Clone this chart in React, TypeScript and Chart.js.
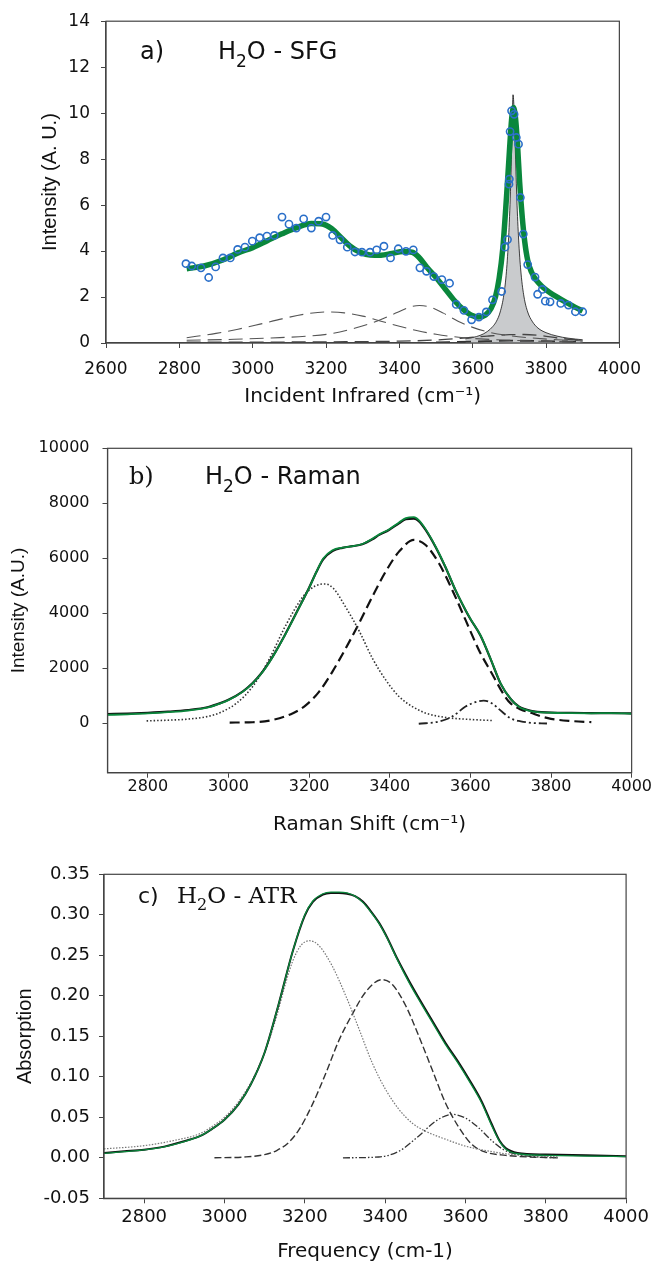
import React, { useEffect, useRef } from "react";
import { Chart, registerables } from "chart.js";
Chart.register(...registerables);

// ---------------- Panel a : H2O - SFG ----------------
const sfgPointX = [2818, 2834, 2859, 2880, 2899, 2919, 2939, 2959, 2979, 2999, 3019, 3039, 3059, 3080, 3099, 3119, 3139, 3160, 3180, 3200, 3218, 3238, 3258, 3279, 3298, 3320, 3338, 3358, 3376, 3397, 3418, 3438, 3456, 3474, 3494, 3516, 3537, 3555, 3576, 3597, 3617, 3637, 3654, 3679, 3688, 3695, 3699, 3700, 3702, 3706, 3713, 3719, 3725, 3730, 3738, 3750, 3770, 3777, 3790, 3798, 3811, 3840, 3861, 3880, 3900];
const sfgPointY = [3.45, 3.35, 3.27, 2.85, 3.31, 3.70, 3.70, 4.07, 4.17, 4.43, 4.58, 4.65, 4.68, 5.48, 5.17, 5.00, 5.40, 5.00, 5.30, 5.48, 4.68, 4.49, 4.17, 3.96, 3.95, 3.95, 4.05, 4.21, 3.70, 4.10, 3.99, 4.05, 3.27, 3.12, 2.89, 2.76, 2.60, 1.68, 1.42, 1.01, 1.13, 1.35, 1.88, 2.24, 4.17, 4.50, 6.91, 7.13, 9.20, 10.10, 9.95, 8.94, 8.65, 6.33, 4.74, 3.41, 2.87, 2.12, 2.33, 1.82, 1.79, 1.72, 1.65, 1.36, 1.36];

const sfgFitX = [2820, 2870, 2920, 2960, 3000, 3040, 3080, 3120, 3160, 3190, 3215, 3240, 3265, 3290, 3320, 3350, 3380, 3410, 3435, 3455, 3475, 3500, 3525, 3550, 3575, 3595, 3615, 3635, 3650, 3662, 3672, 3682, 3692, 3700, 3706, 3711, 3716, 3722, 3728, 3735, 3742, 3750, 3760, 3775, 3790, 3810, 3835, 3860, 3880, 3900];
const sfgFitY = [3.23, 3.36, 3.62, 3.92, 4.15, 4.45, 4.75, 5.02, 5.20, 5.18, 4.98, 4.60, 4.22, 3.97, 3.83, 3.82, 3.90, 3.98, 3.95, 3.70, 3.30, 2.85, 2.35, 1.85, 1.45, 1.22, 1.13, 1.22, 1.50, 2.00, 2.80, 4.10, 6.30, 8.30, 9.70, 10.25, 9.90, 8.70, 7.00, 5.50, 4.40, 3.60, 3.10, 2.70, 2.45, 2.20, 1.95, 1.72, 1.55, 1.40];

const sfgPeakX = [3580, 3600, 3620, 3640, 3655, 3665, 3675, 3685, 3692, 3698, 3703, 3707, 3710, 3713, 3717, 3721, 3726, 3732, 3740, 3750, 3762, 3778, 3800, 3830, 3860, 3900];
const sfgPeakY = [0.18, 0.24, 0.33, 0.50, 0.72, 0.95, 1.35, 2.10, 3.10, 4.60, 6.60, 8.90, 10.80, 10.10, 8.00, 6.00, 4.30, 3.00, 2.00, 1.35, 0.95, 0.65, 0.45, 0.30, 0.21, 0.14];

const sfgBand1X = [2820, 2900, 2960, 3020, 3080, 3140, 3200, 3250, 3300, 3350, 3400, 3450, 3500, 3550, 3600, 3700, 3800, 3900];
const sfgBand1Y = [0.23, 0.42, 0.60, 0.82, 1.05, 1.25, 1.35, 1.31, 1.17, 0.95, 0.73, 0.53, 0.38, 0.27, 0.20, 0.12, 0.07, 0.04];

const sfgBand2X = [2820, 2950, 3050, 3150, 3220, 3280, 3340, 3390, 3430, 3455, 3480, 3520, 3560, 3600, 3650, 3700, 3760, 3830, 3900];
const sfgBand2Y = [0.12, 0.16, 0.22, 0.30, 0.42, 0.65, 0.96, 1.30, 1.57, 1.63, 1.58, 1.30, 0.95, 0.68, 0.45, 0.32, 0.22, 0.14, 0.10];

const sfgBand3X = [2820, 3000, 3200, 3400, 3500, 3580, 3640, 3700, 3740, 3780, 3840, 3900];
const sfgBand3Y = [0.04, 0.04, 0.05, 0.08, 0.13, 0.22, 0.30, 0.36, 0.37, 0.33, 0.20, 0.12];

const sfgBand4X = [3500, 3600, 3700, 3800, 3900];
const sfgBand4Y = [0.03, 0.06, 0.10, 0.08, 0.05];

const sfgTicksX = [2600, 2800, 3000, 3200, 3400, 3600, 3800, 4000];
const sfgTicksY = [0, 2, 4, 6, 8, 10, 12, 14];

// ---------------- Panel b : H2O - Raman ----------------
const ramanX = [2700, 2750, 2800, 2850, 2900, 2950, 2980, 3000, 3035, 3060, 3085, 3110, 3140, 3170, 3200, 3218, 3235, 3258, 3283, 3308, 3332, 3357, 3374, 3398, 3423, 3440, 3460, 3472, 3489, 3514, 3538, 3563, 3588, 3600, 3625, 3650, 3675, 3700, 3720, 3750, 3800, 3850, 3900, 3950, 4000];
const ramanY = [300, 325, 355, 400, 460, 575, 720, 840, 1140, 1450, 1870, 2420, 3200, 4050, 4920, 5500, 5990, 6290, 6390, 6440, 6520, 6710, 6870, 7050, 7300, 7460, 7500, 7390, 7060, 6420, 5700, 4850, 4120, 3800, 3200, 2350, 1450, 880, 600, 440, 380, 365, 360, 370, 345];
const ramanFitY = [330, 350, 380, 420, 480, 590, 730, 850, 1150, 1460, 1880, 2430, 3210, 4060, 4930, 5500, 5960, 6260, 6380, 6440, 6510, 6690, 6850, 7030, 7270, 7420, 7440, 7350, 7030, 6400, 5680, 4840, 4110, 3790, 3190, 2340, 1440, 880, 610, 450, 390, 375, 370, 365, 360];

const ramanBand1X = [2797, 2850, 2900, 2950, 2980, 3020, 3060, 3100, 3140, 3185, 3215, 3240, 3260, 3290, 3325, 3357, 3390, 3423, 3456, 3490, 3540, 3590, 3655];
const ramanBand1Y = [85, 110, 150, 250, 390, 727, 1333, 2300, 3500, 4606, 4990, 5066, 4909, 4242, 3333, 2363, 1576, 970, 606, 364, 206, 145, 97];

const ramanBand2X = [3003, 3060, 3110, 3160, 3193, 3225, 3258, 3291, 3324, 3357, 3390, 3423, 3460, 3489, 3522, 3555, 3588, 3621, 3653, 3686, 3700, 3725, 3750, 3775, 3800, 3850, 3900];
const ramanBand2Y = [24, 36, 121, 364, 667, 1151, 1879, 2727, 3636, 4606, 5515, 6242, 6666, 6484, 5818, 4848, 3757, 2666, 1818, 970, 720, 500, 380, 250, 160, 80, 40];

const ramanBand3X = [3472, 3522, 3555, 3588, 3617, 3633, 3653, 3678, 3699, 3725, 3750, 3790];
const ramanBand3Y = [-20, 60, 242, 606, 788, 824, 727, 424, 182, 70, 15, -10];

const ramanTicksX = [2800, 3000, 3200, 3400, 3600, 3800, 4000];
const ramanTicksY = [0, 2000, 4000, 6000, 8000, 10000];

// ---------------- Panel c : H2O - ATR ----------------
const atrX = [2700, 2750, 2800, 2850, 2900, 2940, 2970, 3000, 3035, 3065, 3100, 3135, 3170, 3200, 3220, 3245, 3265, 3285, 3305, 3325, 3345, 3365, 3385, 3405, 3430, 3460, 3490, 3520, 3550, 3580, 3610, 3640, 3665, 3685, 3700, 3730, 3800, 3900, 4000];
const atrY = [0.0055, 0.0075, 0.0098, 0.0135, 0.020, 0.027, 0.036, 0.047, 0.066, 0.090, 0.130, 0.190, 0.255, 0.300, 0.317, 0.326, 0.328, 0.328, 0.327, 0.323, 0.315, 0.303, 0.289, 0.271, 0.245, 0.216, 0.190, 0.165, 0.140, 0.118, 0.094, 0.068, 0.040, 0.020, 0.011, 0.005, 0.003, 0.002, 0.0015];
const atrFitY = [0.0060, 0.0080, 0.0100, 0.0138, 0.0205, 0.027, 0.036, 0.047, 0.066, 0.090, 0.130, 0.190, 0.255, 0.299, 0.316, 0.325, 0.327, 0.327, 0.326, 0.323, 0.316, 0.304, 0.290, 0.272, 0.246, 0.218, 0.192, 0.167, 0.142, 0.120, 0.096, 0.070, 0.042, 0.021, 0.012, 0.006, 0.004, 0.003, 0.002];

const atrBand1X = [2700, 2800, 2880, 2940, 2970, 3000, 3036, 3070, 3103, 3130, 3152, 3170, 3190, 3212, 3235, 3268, 3302, 3335, 3368, 3401, 3434, 3467, 3500, 3550, 3600, 3650, 3700, 3760, 3830];
const atrBand1Y = [0.011, 0.015, 0.022, 0.030, 0.039, 0.050, 0.070, 0.097, 0.134, 0.175, 0.215, 0.243, 0.262, 0.268, 0.262, 0.237, 0.200, 0.159, 0.117, 0.0845, 0.060, 0.043, 0.033, 0.023, 0.0144, 0.009, 0.005, 0.003, 0.001];

const atrBand2X = [2975, 3050, 3100, 3130, 3160, 3186, 3219, 3252, 3285, 3318, 3352, 3392, 3418, 3451, 3484, 3517, 3550, 3583, 3617, 3650, 3700, 3760, 3830];
const atrBand2Y = [0, 0.001, 0.004, 0.009, 0.019, 0.035, 0.066, 0.104, 0.145, 0.177, 0.205, 0.220, 0.214, 0.188, 0.150, 0.109, 0.068, 0.038, 0.016, 0.007, 0.003, 0.001, 0];

const atrBand3X = [3295, 3384, 3434, 3484, 3525, 3567, 3600, 3633, 3666, 3695, 3730, 3780, 3830];
const atrBand3Y = [0, 0.001, 0.008, 0.027, 0.045, 0.0536, 0.049, 0.037, 0.021, 0.010, 0.004, 0.001, 0];

const atrTicksX = [2800, 3000, 3200, 3400, 3600, 3800, 4000];
const atrTicksY = [-0.05, 0, 0.05, 0.10, 0.15, 0.20, 0.25, 0.30, 0.35];

// ---------------- helpers ----------------
const SANS = '"DejaVu Sans", sans-serif';
const ARIAL = '"Liberation Sans", Arial, sans-serif';
const SERIF = '"DejaVu Serif", serif';
const AXIS = "#444";
const BLUE = "#2a6fc9";
const GREEN = "#0a873c";

Chart.defaults.font.family = SANS;

const toPts = (xs: number[], ys: number[]) => xs.map((x, i) => ({ x, y: ys[i] }));

const framePlugin = {
  id: "frame",
  afterDraw(chart: any) {
    const { ctx, chartArea: a } = chart;
    ctx.save();
    ctx.strokeStyle = AXIS;
    ctx.lineWidth = 1.2;
    ctx.strokeRect(a.left, a.top, a.right - a.left, a.bottom - a.top);
    ctx.restore();
  },
};

type Part = { text: string; size: number; family: string; dy?: number; gap?: number };
type Item = { x: number; y: number; parts: Part[] };

function labelPlugin(items: Item[]) {
  return {
    id: "panelLabel",
    afterDraw(chart: any) {
      const ctx = chart.ctx;
      ctx.save();
      ctx.fillStyle = "#111";
      ctx.textBaseline = "alphabetic";
      ctx.textAlign = "left";
      for (const item of items) {
        let x = item.x;
        for (const p of item.parts) {
          ctx.font = `${p.size}px ${p.family}`;
          ctx.fillText(p.text, x, item.y + (p.dy || 0));
          x += ctx.measureText(p.text).width + (p.gap || 0);
        }
      }
      ctx.restore();
    },
  };
}

function axis(o: {
  min: number; max: number; ticks: number[]; size: number; pad: number;
  fmt?: (v: number) => string; title: string; titleFont: any; titlePad: any; fit: (s: any) => void;
}) {
  return {
    type: "linear",
    min: o.min,
    max: o.max,
    afterBuildTicks: (s: any) => {
      s.ticks = o.ticks.map((v) => ({ value: v }));
    },
    afterFit: o.fit,
    grid: { display: true, drawOnChartArea: false, drawTicks: true, tickLength: 5, color: AXIS, lineWidth: 1 },
    border: { display: true, color: AXIS, width: 1.2 },
    ticks: {
      color: "#111",
      font: { family: SANS, size: o.size },
      padding: o.pad,
      autoSkip: false,
      maxRotation: 0,
      callback: (v: any) => (o.fmt ? o.fmt(Number(v)) : String(v)),
    },
    title: { display: true, text: o.title, color: "#111", font: o.titleFont, padding: o.titlePad },
  };
}

const lineDs = (label: string, xs: number[], ys: number[], color: string, width: number, dash: number[] = [], extra: any = {}) => ({
  label,
  data: toPts(xs, ys),
  borderColor: color,
  backgroundColor: color,
  borderWidth: width,
  borderDash: dash,
  pointRadius: 0,
  fill: false,
  cubicInterpolationMode: "monotone",
  ...extra,
});

const baseOptions = (padding: any, scales: any) => ({
  responsive: false,
  animation: false,
  devicePixelRatio: 1,
  layout: { padding },
  plugins: { legend: { display: false }, tooltip: { enabled: false } },
  elements: { point: { radius: 0 } },
  scales,
});

// ---------------- configs ----------------
function configA() {
  return {
    type: "line",
    data: {
      datasets: [
        {
          label: "SFG data",
          data: toPts(sfgPointX, sfgPointY),
          showLine: false,
          pointRadius: 3.6,
          pointBorderWidth: 1.6,
          pointBorderColor: BLUE,
          pointBackgroundColor: "rgba(255,255,255,0)",
          borderColor: BLUE,
        },
        lineDs("Fit", sfgFitX, sfgFitY, GREEN, 5.5),
        lineDs("Band 1", sfgBand1X, sfgBand1Y, "#555", 1.1, [14, 7]),
        lineDs("Band 2", sfgBand2X, sfgBand2Y, "#555", 1.1, [14, 7]),
        lineDs("Band 3", sfgBand3X, sfgBand3Y, "#444", 1.3, [14, 7]),
        lineDs("Band 4", sfgBand4X, sfgBand4Y, "#333", 1.8, [14, 7]),
        lineDs("Free OH", sfgPeakX, sfgPeakY, "#111", 0.8, [], { fill: "origin", backgroundColor: "#c9cbcd" }),
      ],
    },
    options: baseOptions(
      { left: 0, right: 23, top: 20, bottom: 0 },
      {
        x: axis({
          min: 2600, max: 4000, ticks: sfgTicksX, size: 17, pad: 11,
          title: "Incident Infrared (cm⁻¹)", titleFont: { family: SANS, size: 20, lineHeight: 1 },
          titlePad: { top: 0, bottom: 13 }, fit: (s: any) => { s.height = 77; },
        }),
        y: axis({
          min: 0, max: 14, ticks: sfgTicksY, size: 17, pad: 11,
          title: "Intensity (A. U.)", titleFont: { family: ARIAL, size: 20 },
          titlePad: { top: 38, bottom: 0 }, fit: (s: any) => { s.width = 106; },
        }),
      }
    ),
    plugins: [
      framePlugin,
      labelPlugin([
        { x: 140, y: 59, parts: [{ text: "a)", size: 24, family: SANS }] },
        {
          x: 218, y: 59,
          parts: [
            { text: "H", size: 24, family: SANS },
            { text: "2", size: 17, family: SANS, dy: 8 },
            { text: "O - SFG", size: 24, family: SANS },
          ],
        },
      ]),
    ],
  };
}

function configB() {
  return {
    type: "line",
    data: {
      datasets: [
        lineDs("Raman data", ramanX, ramanY, GREEN, 1.8),
        lineDs("Fit", ramanX, ramanFitY, "#111", 2.2),
        lineDs("Band 1", ramanBand1X, ramanBand1Y, "#333", 1.6, [1.5, 2]),
        lineDs("Band 2", ramanBand2X, ramanBand2Y, "#111", 2.2, [10, 5]),
        lineDs("Band 3", ramanBand3X, ramanBand3Y, "#222", 1.8, [9, 3, 2, 3, 2, 3]),
      ],
    },
    options: baseOptions(
      { left: 0, right: 19.5, top: 28.3, bottom: 0 },
      {
        x: axis({
          min: 2700, max: 4000, ticks: ramanTicksX, size: 16, pad: 0,
          title: "Raman Shift (cm⁻¹)", titleFont: { family: SANS, size: 20, lineHeight: 1 },
          titlePad: { top: 0, bottom: 5 }, fit: (s: any) => { s.height = 67.3; },
        }),
        y: axis({
          min: -1800, max: 10000, ticks: ramanTicksY, size: 16, pad: 13,
          title: "Intensity (A.U.)", titleFont: { family: ARIAL, size: 19 },
          titlePad: { top: 7.3, bottom: 0 }, fit: (s: any) => { s.width = 107.5; },
        }),
      }
    ),
    plugins: [
      framePlugin,
      labelPlugin([
        { x: 129, y: 64, parts: [{ text: "b)", size: 24, family: SERIF }] },
        {
          x: 205, y: 64,
          parts: [
            { text: "H", size: 24, family: SANS },
            { text: "2", size: 17, family: SANS, dy: 8 },
            { text: "O - Raman", size: 24, family: SANS },
          ],
        },
      ]),
    ],
  };
}

function configC() {
  return {
    type: "line",
    data: {
      datasets: [
        lineDs("ATR data", atrX, atrY, GREEN, 1.3),
        lineDs("Fit", atrX, atrFitY, "#111", 2),
        lineDs("Band 1", atrBand1X, atrBand1Y, "#777", 1.2, [1.5, 1.5]),
        lineDs("Band 2", atrBand2X, atrBand2Y, "#333", 1.4, [7, 3]),
        lineDs("Band 3", atrBand3X, atrBand3Y, "#333", 1.3, [7, 2, 1.5, 2, 1.5, 2]),
      ],
    },
    options: baseOptions(
      { left: 0, right: 24, top: 34.3, bottom: 0 },
      {
        x: axis({
          min: 2700, max: 4000, ticks: atrTicksX, size: 18, pad: 3,
          title: "Frequency (cm-1)", titleFont: { family: SANS, size: 20, lineHeight: 1 },
          titlePad: { top: 0, bottom: 0 }, fit: (s: any) => { s.height = 63.7; },
        }),
        y: axis({
          min: -0.05, max: 0.35, ticks: atrTicksY, size: 18, pad: 9, fmt: (v) => v.toFixed(2),
          title: "Absorption", titleFont: { family: ARIAL, size: 20 },
          titlePad: { top: 13, bottom: 0 }, fit: (s: any) => { s.width = 104; },
        }),
      }
    ),
    plugins: [
      framePlugin,
      labelPlugin([
        { x: 138, y: 63, parts: [{ text: "c)", size: 22, family: SANS }] },
        {
          x: 177, y: 63,
          parts: [
            { text: "H", size: 23, family: SERIF },
            { text: "2", size: 16, family: SERIF, dy: 7 },
            { text: "O - ATR", size: 23, family: SERIF },
          ],
        },
      ]),
    ],
  };
}

function Panel({ top, height, make }: { top: number; height: number; make: () => any }) {
  const ref = useRef<HTMLCanvasElement>(null);
  useEffect(() => {
    const chart = new Chart(ref.current as HTMLCanvasElement, make());
    return () => chart.destroy();
  }, []);
  return (
    <div style={{ position: "absolute", left: 0, top, width: 652, height }}>
      <canvas ref={ref} width={652} height={height} style={{ display: "block", width: 652, height }} />
    </div>
  );
}

export default function App() {
  return (
    <div style={{ position: "absolute", left: 0, top: 0, width: 652, height: 1262, background: "#fff" }}>
      <Panel top={0} height={420} make={configA} />
      <Panel top={420} height={420} make={configB} />
      <Panel top={840} height={422} make={configC} />
    </div>
  );
}
